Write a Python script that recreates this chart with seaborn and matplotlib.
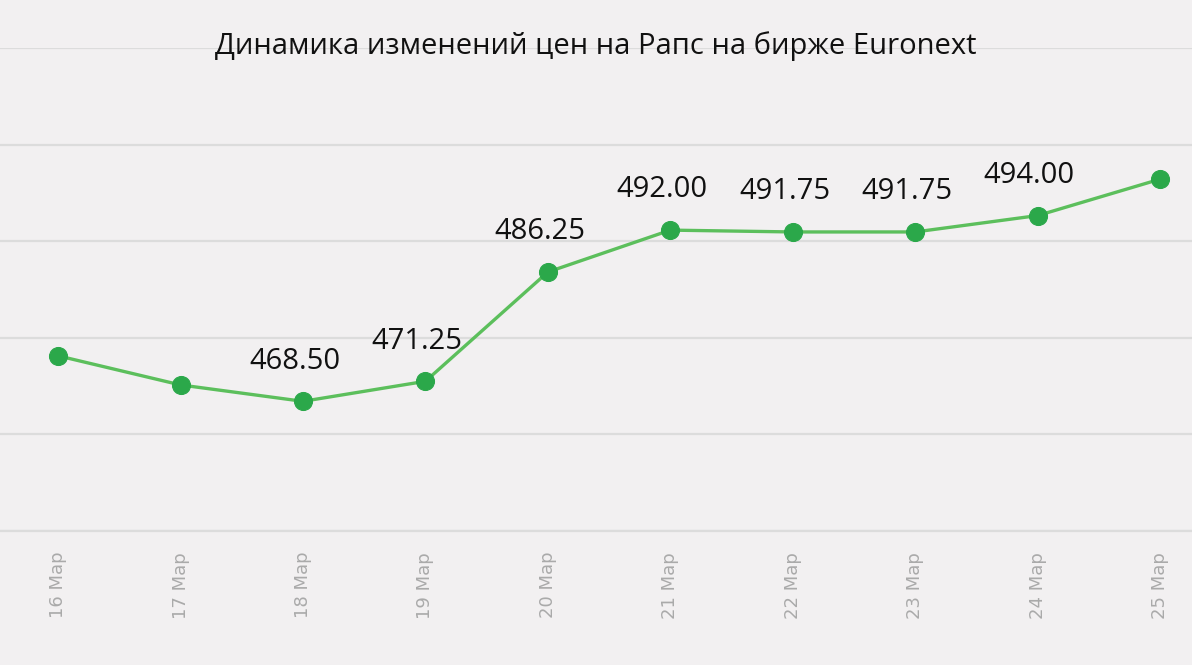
import numpy as np
import pandas as pd
import matplotlib.pyplot as plt
import seaborn as sns

# данные
dates = ['16 Мар', '17 Мар', '18 Мар', '19 Мар', '20 Мар',
         '21 Мар', '22 Мар', '23 Мар', '24 Мар', '25 Мар']
prices = [474.75, 470.75, 468.50, 471.25, 486.25,
          492.00, 491.75, 491.75, 494.00, 499.00]
labeled = [False, False, True, True, True, True, True, True, True, False]

df = pd.DataFrame({'date': dates, 'price': prices, 'pos': range(len(dates))})

bg = '#f2f0f1'
sns.set_theme(style='white')
plt.rcParams['font.family'] = ['Open Sans', 'DejaVu Sans']

fig = plt.figure(figsize=(11.92, 6.65), dpi=100, facecolor=bg)
ax = fig.add_axes([0, 134 / 665, 1, 483 / 665])
ax.set_facecolor(bg)

sns.lineplot(data=df, x='pos', y='price', ax=ax, color='#5cbf5c', linewidth=2.4,
             marker='o', markersize=13, markerfacecolor='#2ba84a',
             markeredgecolor='#2ba84a', zorder=3)

for i, row in df.iterrows():
    if labeled[i]:
        ax.annotate(f"{row['price']:.2f}", (row['pos'], row['price']),
                    xytext=(-6, 29), textcoords='offset points',
                    ha='center', va='center', fontsize=21, color='#111111')

ax.set_xlim(-0.474, 9.26)
ax.set_ylim(450.7, 517.0)
ax.set_yticks(np.linspace(450.7, 517.0, 6))
ax.yaxis.grid(True, color='#dcdcdc', linewidth=1.6)
ax.set_axisbelow(True)
ax.tick_params(axis='y', left=False, labelleft=False)

ax.set_xticks(df['pos'])
ax.set_xticklabels(dates, rotation=90, fontsize=13, color='#aaaaaa',
                   family=['DejaVu Sans'])
ax.tick_params(axis='x', bottom=False, pad=9)
ax.set_xlabel('')
ax.set_ylabel('')
for s in ['top', 'right', 'left']:
    ax.spines[s].set_visible(False)
ax.spines['bottom'].set_color('#dcdcdc')
ax.spines['bottom'].set_linewidth(1.6)

fig.text(0.5, 1 - 46 / 665, 'Динамика изменений цен на Рапс на бирже Euronext',
         ha='center', va='center', fontsize=21, color='#111111')

fig.savefig('out.png', dpi=100, facecolor=bg)
